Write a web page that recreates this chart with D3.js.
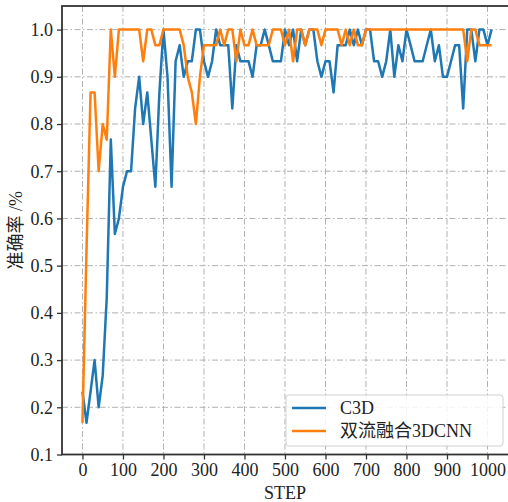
<!DOCTYPE html>
<html>
<head>
<meta charset="utf-8">
<script src="https://cdn.jsdelivr.net/npm/d3@7"></script>
<style>
  body { margin: 0; background: #fff; }
  svg { display: block; }
</style>
</head>
<body>
<div id="chart"></div>
<script>
const width = 508;
const height = 502;

// training steps (one sample every 10 steps)
const steps = d3.range(0, 1020, 10);

// accuracy of plain C3D
const c3d = [
  0.233, 0.167, 0.233, 0.300, 0.200, 0.267, 0.433, 0.767, 0.567, 0.600,
  0.667, 0.700, 0.700, 0.833, 0.900, 0.800, 0.867, 0.767, 0.667, 0.867,
  1.000, 0.900, 0.667, 0.933, 0.967, 0.900, 0.933, 0.933, 1.000, 1.000,
  0.933, 0.900, 0.933, 1.000, 0.967, 0.967, 0.967, 0.833, 0.967, 0.933,
  0.933, 0.933, 0.900, 0.967, 0.967, 1.000, 0.967, 0.933, 0.933, 0.933,
  1.000, 0.967, 1.000, 0.933, 1.000, 0.967, 1.000, 1.000, 0.933, 0.900,
  0.933, 0.933, 0.867, 0.967, 0.967, 0.967, 1.000, 0.967, 1.000, 0.967,
  1.000, 1.000, 0.933, 0.933, 0.900, 0.933, 1.000, 0.900, 0.967, 0.933,
  1.000, 0.967, 0.933, 0.933, 0.933, 0.967, 1.000, 0.933, 0.967, 0.900,
  0.900, 0.933, 0.967, 0.967, 0.833, 1.000, 1.000, 0.933, 1.000, 1.000,
  0.967, 1.000
];

// accuracy of the two-stream fusion 3DCNN
const fusion = [
  0.167, 0.533, 0.867, 0.867, 0.700, 0.800, 0.767, 1.000, 0.900, 1.000,
  1.000, 1.000, 1.000, 1.000, 1.000, 0.933, 1.000, 1.000, 0.967, 0.967,
  1.000, 1.000, 1.000, 1.000, 1.000, 0.967, 0.900, 0.867, 0.800, 0.900,
  0.967, 0.967, 0.967, 0.967, 1.000, 0.967, 1.000, 1.000, 0.933, 1.000,
  0.967, 0.967, 1.000, 0.967, 0.967, 0.967, 0.967, 1.000, 1.000, 1.000,
  0.967, 1.000, 0.933, 1.000, 1.000, 0.967, 1.000, 1.000, 1.000, 0.967,
  1.000, 1.000, 1.000, 1.000, 0.967, 1.000, 0.967, 1.000, 0.967, 0.967,
  1.000, 1.000, 1.000, 1.000, 1.000, 1.000, 1.000, 1.000, 1.000, 1.000,
  1.000, 1.000, 1.000, 1.000, 1.000, 1.000, 1.000, 1.000, 1.000, 1.000,
  1.000, 1.000, 1.000, 1.000, 1.000, 0.933, 1.000, 1.000, 0.967, 0.967,
  0.967, 0.967
];

const seriesNames = ['C3D', '双流融合3DCNN'];
const seriesColors = ['#1f77b4', '#ff7f0e'];
const xTicks = [0, 100, 200, 300, 400, 500, 600, 700, 800, 900, 1000];
const yTicks = [0.1, 0.2, 0.3, 0.4, 0.5, 0.6, 0.7, 0.8, 0.9, 1.0];
const xLabel = 'STEP';
const yLabel = '准确率 /%';

const serif = '"Liberation Serif", "Noto Sans CJK SC", serif';
const plotL = 62, plotR = 512, plotT = 6, plotB = 454.5;

const svg = d3.select('#chart')
  .append('svg')
  .attr('width', width)
  .attr('height', height);

const xScale = d3.scaleLinear().domain([-50.5, 1060.5]).range([plotL, plotR]);
const yScale = d3.scaleLinear().domain([0.1, 1.05]).range([plotB, plotT]);

// Grid (dash-dot)
const grid = svg.append('g').attr('class', 'grid');
grid.selectAll('line.gx')
  .data(xTicks)
  .enter()
  .append('line')
  .attr('x1', d => xScale(d))
  .attr('x2', d => xScale(d))
  .attr('y1', plotT)
  .attr('y2', plotB)
  .attr('stroke', '#b0b0b0')
  .attr('stroke-width', 1)
  .attr('stroke-dasharray', '6,2.5,1.5,2.5');
grid.selectAll('line.gy')
  .data(yTicks)
  .enter()
  .append('line')
  .attr('x1', plotL)
  .attr('x2', plotR)
  .attr('y1', d => yScale(d))
  .attr('y2', d => yScale(d))
  .attr('stroke', '#b0b0b0')
  .attr('stroke-width', 1)
  .attr('stroke-dasharray', '6,2.5,1.5,2.5');

// Lines
[c3d, fusion].forEach((vals, i) => {
  svg.append('path')
    .datum(vals)
    .attr('fill', 'none')
    .attr('stroke', seriesColors[i])
    .attr('stroke-width', 2.5)
    .attr('stroke-linejoin', 'round')
    .attr('d', d3.line()
      .x((d, j) => xScale(steps[j]))
      .y(d => yScale(d)));
});

// Frame
svg.append('rect')
  .attr('x', plotL)
  .attr('y', plotT)
  .attr('width', plotR - plotL)
  .attr('height', plotB - plotT)
  .attr('fill', 'none')
  .attr('stroke', '#333')
  .attr('stroke-width', 1.8);

// Axes
const xAxis = svg.append('g')
  .attr('transform', `translate(0, ${plotB})`)
  .call(d3.axisBottom(xScale).tickValues(xTicks).tickSize(5).tickPadding(4).tickFormat(d3.format('d')));
const yAxis = svg.append('g')
  .attr('transform', `translate(${plotL}, 0)`)
  .call(d3.axisLeft(yScale).tickValues(yTicks).tickSize(5).tickPadding(4).tickFormat(d3.format('.1f')));
[xAxis, yAxis].forEach(ax => {
  ax.select('.domain').remove();
  ax.selectAll('line').attr('stroke', '#333').attr('stroke-width', 1.3);
  ax.selectAll('text')
    .attr('fill', '#222')
    .style('font-family', serif)
    .style('font-size', '18px');
});

// Axis labels
svg.append('text')
  .attr('x', (plotL + plotR) / 2 - 2)
  .attr('y', 499)
  .attr('text-anchor', 'middle')
  .style('font-family', serif)
  .style('font-size', '18px')
  .attr('fill', '#222')
  .text(xLabel);
svg.append('text')
  .attr('transform', `translate(22, ${(plotT + plotB) / 2}) rotate(-90)`)
  .attr('text-anchor', 'middle')
  .style('font-family', serif)
  .style('font-size', '18px')
  .attr('fill', '#222')
  .text(yLabel);

// Legend
const legend = svg.append('g').attr('transform', 'translate(286, 395)');
legend.append('rect')
  .attr('width', 217)
  .attr('height', 51)
  .attr('rx', 3)
  .attr('fill', '#fff')
  .attr('fill-opacity', 0.85)
  .attr('stroke', '#d0d0d0');
seriesNames.forEach((name, i) => {
  const y = 13 + i * 23;
  legend.append('line')
    .attr('x1', 6).attr('x2', 40)
    .attr('y1', y).attr('y2', y)
    .attr('stroke', seriesColors[i])
    .attr('stroke-width', 2.5);
  legend.append('text')
    .attr('x', 54)
    .attr('y', y + 6)
    .style('font-family', serif)
    .style('font-size', '18px')
    .attr('fill', '#222')
    .text(name);
});
</script>
</body>
</html>
